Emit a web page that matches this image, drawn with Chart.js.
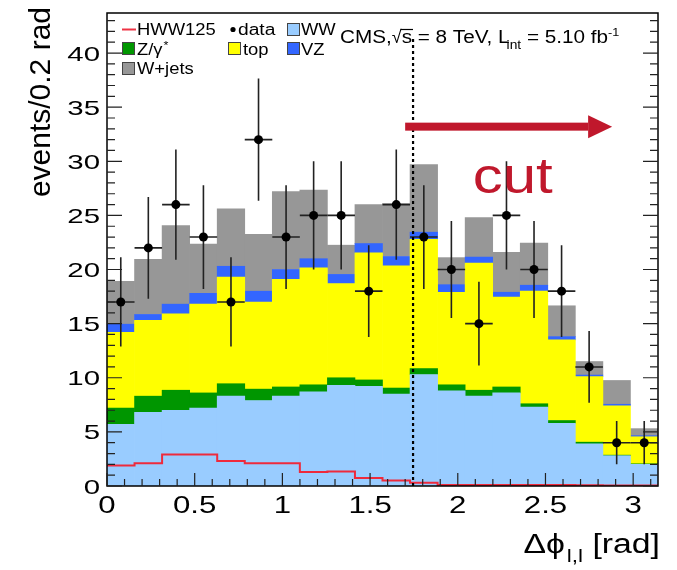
<!DOCTYPE html>
<html>
<head>
<meta charset="utf-8">
<script src="https://cdn.jsdelivr.net/npm/chart.js@4.4.1/dist/chart.umd.min.js"></script>
<style>
  html, body { margin: 0; padding: 0; background: #fff; }
  #wrap { width: 677px; height: 570px; }
</style>
</head>
<body>
<div id="wrap"><canvas id="dphiChart" width="677" height="570"></canvas></div>
<script>
// delta phi(l,l) after selection, 20 bins between 0 and pi
const nBins = 20;
const phiMax = Math.PI;
const observed = [17, 22, 26, 23, 17, 32, 23, 25, 25, 18, 26, 23, 20, 15, 25, 20, 18, 11, 4, 4];
const hww125 = [1.9, 2.1, 2.9, 2.9, 2.3, 2.1, 2.1, 1.3, 1.35, 0.75, 0.5, 0.3, 0.1, 0.1, 0.1, 0.1, 0.1, 0.08, 0.05, 0.05];
// backgrounds, stacked bottom -> top
const wwBkg = [5.7, 6.8, 7.0, 7.2, 8.3, 7.9, 8.3, 8.7, 9.3, 9.2, 8.5, 10.3, 8.8, 8.3, 8.6, 7.3, 5.8, 3.9, 2.8, 2.0];
const zBkg = [1.5, 1.5, 1.85, 1.4, 1.15, 1.05, 0.85, 0.65, 0.7, 0.6, 0.55, 0.55, 0.55, 0.55, 0.55, 0.3, 0.25, 0.15, 0.05, 0.05];
const topBkg = [7.0, 7.0, 7.05, 8.2, 9.85, 8.05, 9.95, 10.8, 8.7, 11.75, 11.3, 11.95, 8.55, 11.75, 8.3, 10.4, 7.45, 6.05, 4.55, 2.5];
const vzBkg = [0.75, 0.55, 0.9, 1.0, 1.0, 1.0, 0.9, 0.85, 0.85, 0.85, 0.85, 0.65, 0.7, 0.55, 0.45, 0.55, 0.3, 0.15, 0.15, 0.1];
const wjetsBkg = [3.95, 5.1, 7.25, 4.55, 5.3, 5.25, 7.2, 6.35, 2.7, 3.6, 4.9, 6.25, 2.5, 3.65, 3.7, 3.9, 2.85, 1.25, 2.2, 0.65];
const yTicks = [0, 5, 10, 15, 20, 25, 30, 35, 40];
const xTicks = [0, 0.5, 1, 1.5, 2, 2.5, 3];
const cutValue = 1.745;

const binWidth = phiMax / nBins;
const binCenters = observed.map((_, i) => (i + 0.5) * binWidth);
const toPoints = arr => arr.map((v, i) => ({ x: binCenters[i], y: v }));

// step line for the signal: one point per lower edge plus the last upper edge
const hwwSteps = hww125.map((v, i) => ({ x: i * binWidth, y: v }));
hwwSteps.push({ x: phiMax, y: hww125[hww125.length - 1] });

const FONT = '"Liberation Sans", Arial, sans-serif';
const RED = '#c0182c';

function sText(ctx, txt, x, y, align, sx) {
    const w = ctx.measureText(txt).width * sx;
    const x0 = align === 'right' ? x - w : align === 'center' ? x - w / 2 : x;
    ctx.save();
    ctx.translate(x0, y);
    ctx.scale(sx, 1);
    ctx.textAlign = 'left';
    ctx.fillText(txt, 0, 0);
    ctx.restore();
    return w;
}

const histDecor = {
    id: 'histDecor',
    beforeDatasetDraw(chart, args) {
        if (args.index !== 0) return;
        const { ctx, scales: { x, y } } = chart;
        ctx.save();
        ctx.strokeStyle = '#222';
        ctx.lineWidth = 1.6;
        observed.forEach((n, i) => {
            const err = Math.sqrt(n);
            const cx = x.getPixelForValue(binCenters[i]);
            const yc = y.getPixelForValue(n);
            ctx.beginPath();
            ctx.moveTo(cx, y.getPixelForValue(n + err));
            ctx.lineTo(cx, y.getPixelForValue(Math.max(n - err, 0)));
            ctx.moveTo(x.getPixelForValue(binCenters[i] - binWidth / 2), yc);
            ctx.lineTo(x.getPixelForValue(binCenters[i] + binWidth / 2), yc);
            ctx.stroke();
        });
        ctx.restore();
    },
    afterDatasetsDraw(chart) {
        const { ctx, chartArea: a, scales: { x, y } } = chart;
        ctx.save();

        // cut line
        const cx = x.getPixelForValue(cutValue);
        ctx.strokeStyle = '#000';
        ctx.lineWidth = 2.2;
        ctx.setLineDash([3, 3]);
        ctx.beginPath();
        ctx.moveTo(cx, y.getPixelForValue(41.3));
        ctx.lineTo(cx, a.bottom);
        ctx.stroke();
        ctx.setLineDash([]);

        // frame and inward ticks
        ctx.strokeStyle = '#000';
        ctx.lineWidth = 1.5;
        ctx.strokeRect(a.left, a.top, a.right - a.left, a.bottom - a.top);
        ctx.lineWidth = 1.2;
        ctx.strokeStyle = '#222';
        ctx.beginPath();
        for (let v = 0; v <= y.max; v += 1) {
            const py = y.getPixelForValue(v);
            const len = v % 5 === 0 ? 15 : 8;
            ctx.moveTo(a.left, py); ctx.lineTo(a.left + len, py);
            ctx.moveTo(a.right, py); ctx.lineTo(a.right - len, py);
        }
        for (let k = 0; k * 0.1 <= x.max; k++) {
            const px = x.getPixelForValue(k * 0.1);
            const len = k % 5 === 0 ? 13 : 7;
            ctx.moveTo(px, a.bottom); ctx.lineTo(px, a.bottom - len);
        }
        ctx.stroke();

        // tick labels
        ctx.fillStyle = '#000';
        ctx.textBaseline = 'alphabetic';
        ctx.font = '21px ' + FONT;
        yTicks.forEach(v => sText(ctx, String(v), 100, y.getPixelForValue(v) + 7.5, 'right', 1.4));
        ctx.font = '24px ' + FONT;
        xTicks.forEach(v => sText(ctx, String(v), x.getPixelForValue(v), 513, 'center', 1.3));

        // cut arrow
        const ay = y.getPixelForValue(33.2);
        const ax0 = x.getPixelForValue(1.70), ax1 = x.getPixelForValue(2.88);
        ctx.fillStyle = RED;
        ctx.fillRect(ax0, ay - 4, ax1 - 24 - ax0, 8);
        ctx.beginPath();
        ctx.moveTo(ax1 - 24, ay - 11.5);
        ctx.lineTo(ax1, ay);
        ctx.lineTo(ax1 - 24, ay + 11.5);
        ctx.closePath();
        ctx.fill();
        ctx.font = '50px ' + FONT;
        sText(ctx, 'cut', x.getPixelForValue(2.085), y.getPixelForValue(27.1), 'left', 1.2);

        // legend
        const box = (bx, by, col) => {
            ctx.fillStyle = col;
            ctx.fillRect(bx, by, 13, 13);
            ctx.strokeStyle = '#444';
            ctx.lineWidth = 1;
            ctx.strokeRect(bx + 0.5, by + 0.5, 12, 12);
        };
        ctx.font = '16px ' + FONT;
        ctx.strokeStyle = '#ee3344';
        ctx.lineWidth = 2;
        ctx.beginPath(); ctx.moveTo(122, 29.5); ctx.lineTo(136, 29.5); ctx.stroke();
        ctx.fillStyle = '#000';
        sText(ctx, 'HWW125', 137, 35, 'left', 1.15);
        ctx.beginPath(); ctx.arc(233, 29.5, 2.6, 0, Math.PI * 2); ctx.fill();
        sText(ctx, 'data', 238, 35, 'left', 1.2);
        box(287, 23, '#99ccff');
        ctx.fillStyle = '#000';
        sText(ctx, 'WW', 301, 35, 'left', 1.15);
        box(122, 42, '#009600');
        ctx.fillStyle = '#000';
        const zw = sText(ctx, 'Z/γ', 137, 54.5, 'left', 1.15);
        ctx.font = '11px ' + FONT;
        sText(ctx, '*', 138 + zw, 49, 'left', 1.15);
        ctx.font = '16px ' + FONT;
        box(228, 42, '#ffff00');
        ctx.fillStyle = '#000';
        sText(ctx, 'top', 243, 54.5, 'left', 1.15);
        box(287, 42, '#3366ff');
        ctx.fillStyle = '#000';
        sText(ctx, 'VZ', 301, 54.5, 'left', 1.15);
        box(122, 62, '#979797');
        ctx.fillStyle = '#000';
        sText(ctx, 'W+jets', 137, 74, 'left', 1.15);

        // CMS label
        let tx = 340;
        const tb = 43;
        ctx.font = '18px ' + FONT;
        tx += sText(ctx, 'CMS,', tx, tb, 'left', 1.15);
        const sq = sText(ctx, '√', tx, tb, 'left', 1.0);
        tx += sq;
        const sw = sText(ctx, 's', tx, tb, 'left', 1.15);
        ctx.strokeStyle = '#000';
        ctx.lineWidth = 1.2;
        ctx.beginPath(); ctx.moveTo(tx - 1, tb - 13.5); ctx.lineTo(tx + sw + 1, tb - 13.5); ctx.stroke();
        tx += sw;
        tx += sText(ctx, ' = 8 TeV, L', tx, tb, 'left', 1.15);
        ctx.font = '12px ' + FONT;
        tx += sText(ctx, 'int', tx - 3, tb + 6, 'left', 1.15) - 3;
        ctx.font = '18px ' + FONT;
        tx += sText(ctx, ' = 5.10 fb', tx, tb, 'left', 1.15);
        ctx.font = '11px ' + FONT;
        sText(ctx, '-1', tx, tb - 7, 'left', 1.15);

        // axis titles
        ctx.font = '30px ' + FONT;
        ctx.save();
        ctx.translate(50, 7);
        ctx.rotate(-Math.PI / 2);
        ctx.textAlign = 'right';
        ctx.fillText('events/0.2 rad', 0, 0);
        ctx.restore();

        ctx.font = '27px ' + FONT;
        const w1 = ctx.measureText('Δϕ').width * 1.25;
        const w3 = ctx.measureText(' [rad]').width * 1.25;
        ctx.font = '18px ' + FONT;
        const w2 = ctx.measureText('l,l').width * 1.25;
        const xs = 660 - (w1 + w2 + w3 + 2);
        ctx.font = '27px ' + FONT;
        sText(ctx, 'Δϕ', xs, 553, 'left', 1.25);
        ctx.font = '18px ' + FONT;
        sText(ctx, 'l,l', xs + w1 + 2, 562, 'left', 1.25);
        ctx.font = '27px ' + FONT;
        sText(ctx, ' [rad]', xs + w1 + w2 + 2, 553, 'left', 1.25);

        ctx.restore();
    }
};

const barSet = (label, values, color) => ({
    type: 'bar',
    label: label,
    data: toPoints(values),
    backgroundColor: color,
    borderWidth: 0,
    barPercentage: 1.0,
    categoryPercentage: 1.0
});

const ctx = document.getElementById('dphiChart').getContext('2d');
const chart = new Chart(ctx, {
    type: 'bar',
    data: {
        datasets: [
            {
                type: 'scatter',
                label: 'data',
                stack: 'obs',
                data: toPoints(observed),
                pointRadius: 4.5,
                pointBackgroundColor: '#000',
                pointBorderWidth: 0
            },
            {
                type: 'line',
                label: 'HWW125',
                stack: 'sig',
                data: hwwSteps,
                stepped: 'before',
                borderColor: '#ee2a3c',
                borderWidth: 2,
                pointRadius: 0,
                fill: false
            },
            barSet('WW', wwBkg, '#99ccff'),
            barSet('Z/γ*', zBkg, '#009600'),
            barSet('top', topBkg, '#ffff00'),
            barSet('VZ', vzBkg, '#3366ff'),
            barSet('W+jets', wjetsBkg, '#979797')
        ]
    },
    options: {
        responsive: false,
        animation: false,
        layout: { padding: { left: 0, right: 19, top: 13, bottom: 0 } },
        plugins: {
            legend: { display: false },
            tooltip: { enabled: false }
        },
        scales: {
            x: {
                type: 'linear',
                stacked: true,
                offset: false,
                min: 0,
                max: phiMax,
                grid: { display: false },
                border: { display: false },
                ticks: { display: false, stepSize: 0.5, includeBounds: false },
                afterFit: s => { s.height = 84; }
            },
            y: {
                stacked: true,
                min: 0,
                max: 43.7,
                grid: { display: false },
                border: { display: false },
                ticks: { display: false, stepSize: 5, includeBounds: false },
                afterFit: s => { s.width = 107; }
            }
        }
    },
    plugins: [histDecor]
});
</script>
</body>
</html>
